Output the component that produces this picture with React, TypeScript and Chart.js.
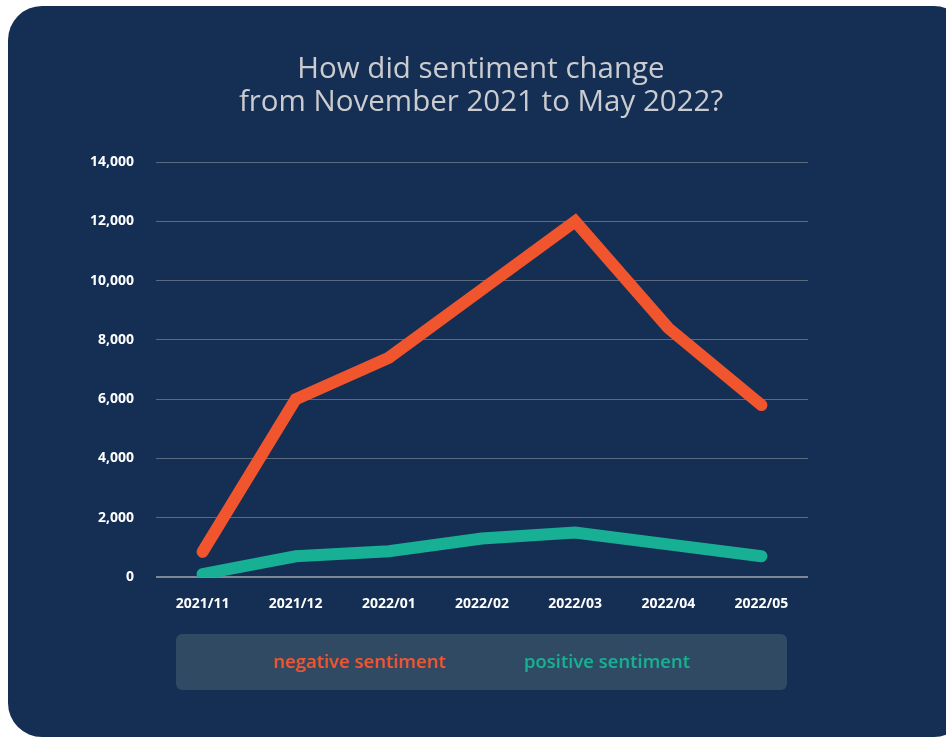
import React, { useEffect, useRef } from "react";
import { Chart, registerables } from "chart.js";

Chart.register(...registerables);

const categories = ["2021/11", "2021/12", "2022/01", "2022/02", "2022/03", "2022/04", "2022/05"];
const negativeSentiment = [850, 6000, 7400, 9700, 12000, 8400, 5800];
const positiveSentiment = [100, 700, 870, 1300, 1500, 1100, 700];
const yTicks = [0, 2000, 4000, 6000, 8000, 10000, 12000, 14000];
const titleLines = ["How did sentiment change", "from November 2021 to May 2022?"];
const seriesNames = ["negative sentiment", "positive sentiment"];

const NEG = "#f0552d";
const POS = "#17b094";
const PANEL = "#142e54";

export default function App() {
  const ref = useRef<HTMLCanvasElement | null>(null);

  useEffect(() => {
    if (!ref.current) return;
    const chart = new Chart(ref.current, {
      type: "line",
      data: {
        labels: categories,
        datasets: [
          {
            label: seriesNames[0],
            data: negativeSentiment,
            borderColor: NEG,
            backgroundColor: NEG,
            borderWidth: 12,
            borderCapStyle: "round",
            borderJoinStyle: "miter",
            pointRadius: 0,
            tension: 0,
          },
          {
            label: seriesNames[1],
            data: positiveSentiment,
            borderColor: POS,
            backgroundColor: POS,
            borderWidth: 12,
            borderCapStyle: "round",
            borderJoinStyle: "miter",
            pointRadius: 0,
            tension: 0,
          },
        ],
      },
      options: {
        animation: false,
        responsive: false,
        maintainAspectRatio: false,
        layout: { padding: { left: 8, right: 0, top: 0, bottom: 121 } },
        plugins: {
          legend: { display: false },
          tooltip: { enabled: false },
          title: {
            display: true,
            text: titleLines,
            color: "#cbcccf",
            font: { family: "Open Sans", size: 29.5, weight: "normal", lineHeight: 1.12 },
            padding: { top: 47, bottom: 43 },
          },
        },
        scales: {
          x: {
            offset: true,
            grid: { display: false, drawTicks: false },
            border: { display: false },
            ticks: {
              color: "#ffffff",
              font: { family: "Open Sans", size: 14, weight: "bold" },
              padding: 19,
              maxRotation: 0,
              autoSkip: false,
            },
            afterFit: (scale: any) => {
              scale.height = 40;
            },
          },
          y: {
            min: 0,
            max: 14000,
            afterBuildTicks: (scale: any) => {
              scale.ticks = yTicks.map((v) => ({ value: v }));
            },
            grid: {
              drawTicks: false,
              color: (ctx: any) => (ctx.tick && ctx.tick.value === 0 ? "#7d8896" : "#5a6a80"),
              lineWidth: (ctx: any) => (ctx.tick && ctx.tick.value === 0 ? 2 : 1),
            },
            border: { display: false },
            ticks: {
              color: "#ffffff",
              font: { family: "Open Sans", size: 14, weight: "bold" },
              padding: 22,
              callback: (v: any) => Number(v).toLocaleString("en-US"),
            },
            afterFit: (scale: any) => {
              scale.width = 140;
            },
          },
          yRight: {
            position: "right",
            min: 0,
            max: 14000,
            grid: { display: false, drawTicks: false },
            border: { display: false },
            ticks: { display: false },
            afterFit: (scale: any) => {
              scale.width = 138;
            },
          },
        },
      },
    });
    return () => chart.destroy();
  }, []);

  return (
    <div
      style={{
        position: "fixed",
        left: 8,
        top: 6,
        width: 938,
        height: 732,
        overflow: "hidden",
      }}
    >
      <div
        style={{
          position: "absolute",
          left: 0,
          top: 0,
          width: 960,
          height: 731,
          background: PANEL,
          borderRadius: 34,
        }}
      />
      <div
        style={{
          position: "absolute",
          left: 168,
          top: 628,
          width: 611,
          height: 56,
          background: "#2f4a62",
          borderRadius: 6,
        }}
      />
      <div
        style={{
          position: "absolute",
          left: 168,
          top: 626,
          width: 611,
          height: 56,
          display: "flex",
          alignItems: "center",
          fontFamily: "Open Sans",
          fontWeight: 600,
          fontSize: 18.5,
        }}
      >
        <span style={{ position: "absolute", left: 97, color: NEG }}>{seriesNames[0]}</span>
        <span style={{ position: "absolute", left: 348, color: POS }}>{seriesNames[1]}</span>
      </div>
      <canvas
        ref={ref}
        width={938}
        height={732}
        style={{ position: "absolute", left: 0, top: 0, width: 938, height: 732 }}
      />
    </div>
  );
}
